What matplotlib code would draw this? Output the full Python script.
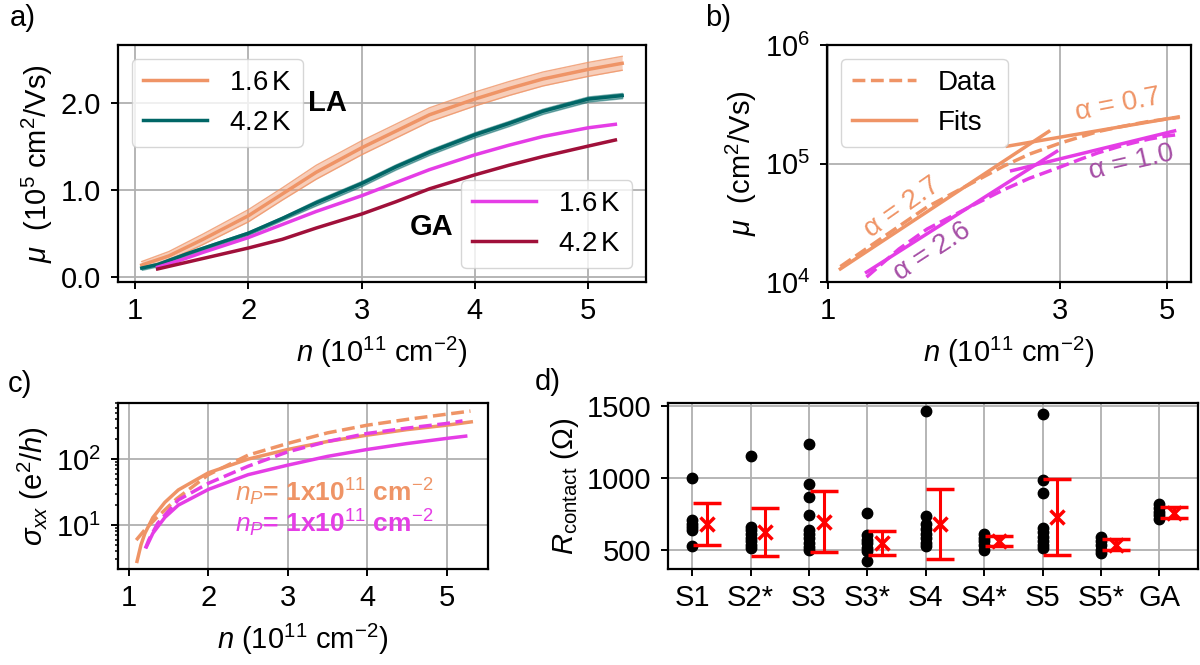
import numpy as np
import matplotlib
matplotlib.use("Agg")
import matplotlib.pyplot as plt
from matplotlib.lines import Line2D
from matplotlib.ticker import NullLocator

plt.rcParams.update({
    "font.family": ["Liberation Sans", "DejaVu Sans"],
    "font.size": 21,
    "mathtext.fontset": "custom",
    "mathtext.rm": "Liberation Sans",
    "mathtext.it": "Liberation Sans:italic",
    "mathtext.bf": "Liberation Sans:bold",
    "axes.linewidth": 1.6,
    "axes.labelpad": 7,
    "xtick.major.width": 1.4, "ytick.major.width": 1.4,
    "xtick.minor.width": 1.1, "ytick.minor.width": 1.1,
    "xtick.major.size": 5, "ytick.major.size": 5,
    "xtick.major.pad": 6, "ytick.major.pad": 7,
    "grid.color": "#b0b0b0", "grid.linewidth": 1.3,
    "legend.fontsize": 20,
})

C_LA16 = "#EF9466"
C_LA42 = "#006666"
C_GA16 = "#E53DE6"
C_GA42 = "#A0103A"
C_PURPLE = "#A64FA6"

# ---- mobility vs density (units of 1e5 cm^2/Vs, n in 1e11 cm^-2) ----
n_la16 = [1.06, 1.3, 1.6, 2.0, 2.3, 2.6, 3.0, 3.3, 3.6, 4.0, 4.3, 4.6, 5.0, 5.3]
mu_la16 = [0.135, 0.24, 0.43, 0.70, 0.95, 1.20, 1.48, 1.67, 1.86, 2.04, 2.16, 2.27, 2.38, 2.45]
dmu_la16 = [0.04, 0.05, 0.06, 0.07, 0.07, 0.08, 0.08, 0.08, 0.08, 0.08, 0.08, 0.08, 0.08, 0.08]

n_la42 = [1.06, 1.2, 1.45, 1.7, 2.0, 2.3, 2.6, 3.0, 3.3, 3.6, 4.0, 4.3, 4.6, 5.0, 5.3]
mu_la42 = [0.10, 0.14, 0.26, 0.37, 0.50, 0.67, 0.85, 1.07, 1.26, 1.43, 1.63, 1.76, 1.90, 2.04, 2.08]
dmu_la42 = [0.02, 0.02, 0.02, 0.02, 0.02, 0.02, 0.03, 0.03, 0.03, 0.03, 0.03, 0.03, 0.03, 0.03, 0.03]

n_ga16 = [1.2, 1.4, 1.6, 2.0, 2.3, 2.6, 3.0, 3.3, 3.6, 4.0, 4.3, 4.6, 5.0, 5.24]
mu_ga16 = [0.11, 0.19, 0.28, 0.45, 0.60, 0.75, 0.93, 1.08, 1.23, 1.40, 1.51, 1.61, 1.71, 1.75]

n_ga42 = [1.2, 1.4, 1.6, 2.0, 2.3, 2.6, 3.0, 3.3, 3.6, 4.0, 4.3, 4.6, 5.0, 5.24]
mu_ga42 = [0.09, 0.15, 0.21, 0.33, 0.43, 0.56, 0.72, 0.86, 1.01, 1.17, 1.28, 1.38, 1.50, 1.57]

# ---- power-law fits mu ~ n^alpha: start point, end density, exponent ----
fit_n_start = [1.06, 2.34, 1.20, 2.39]
fit_mu_start = [1.29e4, 1.40e5, 1.21e4, 8.7e4]
fit_n_end = [2.85, 5.27, 2.96, 5.18]
fit_alpha = [2.7, 0.7, 2.6, 1.0]
fit_colors = [C_LA16, C_LA16, C_GA16, C_GA16]

alpha_label_n = [1.42, 3.96, 1.64, 4.22]
alpha_label_mu = [4.27e4, 3.13e5, 1.82e4, 1.02e5]
alpha_label_rot = [35, 11, 33, 13]
alpha_label_col = [C_LA16, C_LA16, C_PURPLE, C_PURPLE]

# ---- conductivity (e^2/h) ----
n_sig_la_data = [1.09, 1.2, 1.35, 1.6, 2.0, 2.5, 3.0, 3.5, 4.0, 4.5, 5.0, 5.3]
sig_la_data = [5.9, 8.5, 13, 25, 58, 115, 173, 250, 327, 400, 480, 535]
n_sig_la_fit = [1.10, 1.15, 1.2, 1.3, 1.45, 1.62, 2.0, 2.5, 3.0, 3.5, 4.0, 4.5, 5.0, 5.31]
sig_la_fit = [2.8, 5.0, 7.5, 13, 22, 34, 62, 100, 140, 185, 231, 280, 327, 367]
n_sig_ga_data = [1.205, 1.25, 1.36, 1.62, 2.0, 2.5, 3.0, 3.5, 4.0, 4.5, 5.0, 5.2]
sig_ga_data = [4.4, 6.0, 10.6, 24, 43, 78, 129, 185, 245, 295, 347, 380]
n_sig_ga_fit = [1.22, 1.3, 1.45, 1.62, 2.0, 2.5, 3.0, 3.5, 4.0, 4.5, 5.0, 5.24]
sig_ga_fit = [4.7, 7.5, 13.0, 20, 34.7, 58, 81, 110, 140, 172, 206, 223]

# ---- contact resistances (Ohm) ----
samples = ["S1", "S2*", "S3", "S3*", "S4", "S4*", "S5", "S5*", "GA"]
r_s1 = [995, 705, 680, 660, 640, 525]
r_s2s = [1148, 660, 635, 610, 585, 560, 535, 515]
r_s3 = [1236, 953, 868, 741, 640, 610, 580, 550, 520, 495]
r_s3s = [757, 600, 570, 545, 515, 490, 419]
r_s4 = [1466, 737, 680, 645, 610, 580, 550, 525]
r_s4s = [610, 585, 560, 530, 500]
r_s5 = [1443, 983, 895, 650, 620, 590, 560, 530, 515]
r_s5s = [590, 560, 530, 500, 475]
r_ga = [820, 790, 765, 740, 710]
r_mean = [679, 623, 694, 548, 680, 560, 727, 534, 758]
r_err = [144, 164, 213, 83, 245, 37, 266, 39, 40]

fig = plt.figure(figsize=(12, 6.65), dpi=100)
ax_a = fig.add_axes([0.0983, 0.5759, 0.4400, 0.3564])
ax_b = fig.add_axes([0.6892, 0.5759, 0.3033, 0.3564])
ax_c = fig.add_axes([0.0983, 0.1444, 0.3083, 0.2496])
ax_d = fig.add_axes([0.5567, 0.1444, 0.4417, 0.2496])

LW = 2.5

# ---------------- panel a ----------------
ax = ax_a
lo = np.array(mu_la16) - np.array(dmu_la16)
hi = np.array(mu_la16) + np.array(dmu_la16)
ax.fill_between(n_la16, lo, hi, color=C_LA16, alpha=0.45, lw=0)
ax.plot(n_la16, lo, color=C_LA16, lw=1.0, alpha=0.8)
ax.plot(n_la16, hi, color=C_LA16, lw=1.0, alpha=0.8)
la16, = ax.plot(n_la16, mu_la16, color=C_LA16, lw=LW, label=r"1.6$\,$K")
lo = np.array(mu_la42) - np.array(dmu_la42)
hi = np.array(mu_la42) + np.array(dmu_la42)
ax.fill_between(n_la42, lo, hi, color=C_LA42, alpha=0.5, lw=1.0)
la42, = ax.plot(n_la42, mu_la42, color=C_LA42, lw=LW, label=r"4.2$\,$K")
ga16, = ax.plot(n_ga16, mu_ga16, color=C_GA16, lw=LW, label=r"1.6$\,$K")
ga42, = ax.plot(n_ga42, mu_ga42, color=C_GA42, lw=LW, label=r"4.2$\,$K")
ax.set_xlim(0.85, 5.51)
ax.set_ylim(-0.06, 2.66)
ax.set_xticks([1, 2, 3, 4, 5])
ax.set_yticks([0, 1, 2])
ax.set_yticklabels(["0.0", "1.0", "2.0"])
ax.grid(True)
ax.set_axisbelow(True)
ax.set_xlabel(r"$n$ (10$^{11}$ cm$^{-2}$)")
ax.set_ylabel(r"$\mu$  (10$^5$ cm$^2$/Vs)", labelpad=4)
leg1 = ax.legend(handles=[la16, la42], loc="upper left", handlelength=2.3)
ax.add_artist(leg1)
ax.legend(handles=[ga16, ga42], loc="lower right", handlelength=2.3)
ax.text(2.70, 2.0, "LA", fontweight="bold", fontsize=21, ha="center", va="center")
ax.text(3.62, 0.57, "GA", fontweight="bold", fontsize=21, ha="center", va="center")

# ---------------- panel b ----------------
ax = ax_b
ax.set_xscale("log")
ax.set_yscale("log")
ax.plot(n_la16, np.array(mu_la16) * 1e5, color=C_LA16, lw=LW, ls="--")
ax.plot(n_ga16, np.array(mu_ga16) * 1e5, color=C_GA16, lw=LW, ls="--")
for n0, m0, n1, a, c in zip(fit_n_start, fit_mu_start, fit_n_end, fit_alpha, fit_colors):
    m1 = m0 * (n1 / n0) ** a
    ax.plot([n0, n1], [m0, m1], color=c, lw=LW)
for a, x, y, r, c in zip(fit_alpha, alpha_label_n, alpha_label_mu, alpha_label_rot, alpha_label_col):
    ax.text(x, y, f"α = {a:.1f}", color=c, rotation=r, fontsize=20,
            ha="center", va="center", rotation_mode="anchor")
ax.set_xlim(0.995, 5.6)
ax.set_ylim(1e4, 1e6)
ax.set_xticks([1, 3, 5])
ax.set_xticklabels(["1", "3", "5"])
ax.xaxis.set_minor_locator(NullLocator())
ax.yaxis.set_minor_locator(NullLocator())
ax.grid(True)
ax.set_axisbelow(True)
ax.set_xlabel(r"$n$ (10$^{11}$ cm$^{-2}$)")
ax.set_ylabel(r"$\mu$  (cm$^2$/Vs)", labelpad=4)
ax.legend(handles=[Line2D([], [], color=C_LA16, lw=LW, ls="--"),
                   Line2D([], [], color=C_LA16, lw=LW)],
          labels=["Data", "Fits"], loc="upper left", handlelength=2.3)

# ---------------- panel c ----------------
ax = ax_c
ax.set_yscale("log")
ax.plot(n_sig_la_data, sig_la_data, color=C_LA16, lw=LW, ls="--")
ax.plot(n_sig_la_fit, sig_la_fit, color=C_LA16, lw=LW)
ax.plot(n_sig_ga_data, sig_ga_data, color=C_GA16, lw=LW, ls="--")
ax.plot(n_sig_ga_fit, sig_ga_fit, color=C_GA16, lw=LW)
ax.set_xlim(0.86, 5.52)
ax.set_ylim(2.15, 710)
ax.set_xticks([1, 2, 3, 4, 5])
ax.grid(True, which="major")
ax.set_axisbelow(True)
ax.set_xlabel(r"$n$ (10$^{11}$ cm$^{-2}$)")
ax.set_ylabel(r"$\sigma_{xx}$ (e$^2$/$h$)", labelpad=4)
ax.text(2.33, 31, r"$n_P$= 1x10$^{11}$ cm$^{-2}$", color=C_LA16,
        fontweight="bold", fontsize=19, va="center", ha="left")
ax.text(2.33, 10.5, r"$n_P$= 1x10$^{11}$ cm$^{-2}$", color=C_GA16,
        fontweight="bold", fontsize=19, va="center", ha="left")

# ---------------- panel d ----------------
ax = ax_d
groups = [r_s1, r_s2s, r_s3, r_s3s, r_s4, r_s4s, r_s5, r_s5s, r_ga]
for i, vals in enumerate(groups):
    ax.plot([i] * len(vals), vals, "o", color="black", ms=7.5)
xpos = np.arange(len(samples))
ax.errorbar(xpos + 0.25, r_mean, yerr=r_err, fmt="x", color="red", ms=10,
            mew=2.5, lw=2.2, capsize=10, capthick=2.2)
ax.set_xticks(xpos)
ax.set_xticklabels(samples)
ax.set_yticks([500, 1000, 1500])
ax.grid(True)
ax.set_axisbelow(True)
ax.set_ylabel(r"$R_{\rm contact}$ ($\Omega$)", labelpad=4)

# panel tags
fig.text(10 / 1200, 1 - 4 / 665, "a)", va="top", ha="left")
fig.text(705 / 1200, 1 - 4 / 665, "b)", va="top", ha="left")
fig.text(8 / 1200, 1 - 370 / 665, "c)", va="top", ha="left")
fig.text(535 / 1200, 1 - 368 / 665, "d)", va="top", ha="left")

fig.savefig("out.png", dpi=100)
